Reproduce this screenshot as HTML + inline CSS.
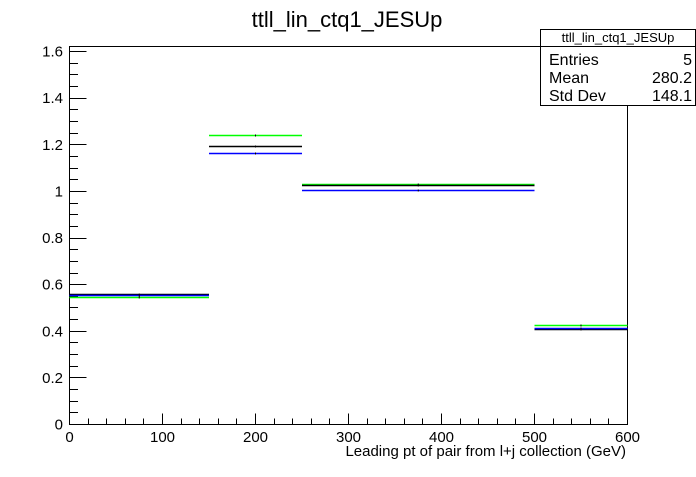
<!DOCTYPE html>
<html><head><meta charset="utf-8"><style>
body{margin:0;background:#fff}
svg text{font-family:"Liberation Sans",Arial,sans-serif}
</style></head><body>
<svg id="c" width="696" height="472" xmlns="http://www.w3.org/2000/svg">
<rect width="696" height="472" fill="#fff"/>
<text x="347" y="27" font-size="22" text-anchor="middle">ttll_lin_ctq1_JESUp</text>
<g id="axes"></g>
<g id="marks"></g>
<g>
<rect x="540.5" y="29.5" width="155" height="76" fill="#fff" stroke="#000"/>
<line x1="540.5" y1="46.5" x2="695.5" y2="46.5" stroke="#000"/>
<text x="618" y="42" font-size="13" text-anchor="middle">ttll_lin_ctq1_JESUp</text>
<text x="549" y="65" font-size="16">Entries</text><text x="692" y="65" font-size="16" text-anchor="end">5</text>
<text x="549" y="83" font-size="16">Mean</text><text x="692" y="83" font-size="16" text-anchor="end">280.2</text>
<text x="549" y="101" font-size="16">Std Dev</text><text x="692" y="101" font-size="16" text-anchor="end">148.1</text>
</g>
<text x="626" y="456" font-size="15" text-anchor="end">Leading pt of pair from l+j collection (GeV)</text>
</svg>
<script>
const binEdges=[0,150,250,500,600];
const blackVals=[0.558,1.196,1.029,0.411];
const blueVals=[0.554,1.166,1.007,0.412];
const greenVals=[0.547,1.243,1.033,0.425];
const xTicks=[0,100,200,300,400,500,600];
const yTicks=[0,0.2,0.4,0.6,0.8,1,1.2,1.4,1.6];
const X0=69.5,X1=627.5,Y0=424.5,Y1=46.5,XMAX=600,YMAX=1.622;
const sx=v=>X0+(X1-X0)*v/XMAX;
const sy=v=>Y0-(Y0-Y1)*v/YMAX;
const NS="http://www.w3.org/2000/svg";
const axes=document.getElementById('axes'),marks=document.getElementById('marks');
function ln(p,x1,y1,x2,y2,c,w){const l=document.createElementNS(NS,'line');l.setAttribute('x1',x1);l.setAttribute('y1',y1);l.setAttribute('x2',x2);l.setAttribute('y2',y2);l.setAttribute('stroke',c);l.setAttribute('stroke-width',w||1);p.appendChild(l);return l;}
function tx(p,x,y,s,a){const t=document.createElementNS(NS,'text');t.setAttribute('x',x);t.setAttribute('y',y);t.setAttribute('font-size',15);t.setAttribute('text-anchor',a);t.textContent=s;p.appendChild(t);return t;}
const fr=document.createElementNS(NS,'rect');
fr.setAttribute('x',X0);fr.setAttribute('y',Y1);fr.setAttribute('width',X1-X0);fr.setAttribute('height',Y0-Y1);fr.setAttribute('fill','none');fr.setAttribute('stroke','#000');


axes.appendChild(fr);
for(let i=0;i<=30;i++){const v=i*20;const maj=i%5===0;const x=Math.floor(sx(v))+0.5;ln(axes,x,Y0,x,Y0-(maj?11:6),'#000');}
for(let i=0;i*0.05<=YMAX;i++){const v=i*0.05;const maj=i%4===0;const y=Math.floor(sy(v))+0.5;ln(axes,X0,y,X0+(maj?17:8.5),y,'#000');}
xTicks.forEach(v=>{const t=tx(axes,sx(v),442,String(v),'middle');

});
yTicks.forEach(v=>{const t=tx(axes,63,sy(v)+5,String(Math.round(v*10)/10),'end');

});
function series(vals,color,name){
 vals.forEach((v,i)=>{const y=Math.round(sy(v))+0.5;const l=ln(marks,sx(binEdges[i]),y,sx(binEdges[i+1]),y,color,1.5);
 
 
 const cx=sx((binEdges[i]+binEdges[i+1])/2);ln(marks,cx,y-1,cx,y+1,'#000',1);});
}
series(greenVals,'#00ff00','green-hist');
series(blackVals,'#000000','black-hist');
series(blueVals,'#0000ff','blue-hist');
</script>
</body></html>
